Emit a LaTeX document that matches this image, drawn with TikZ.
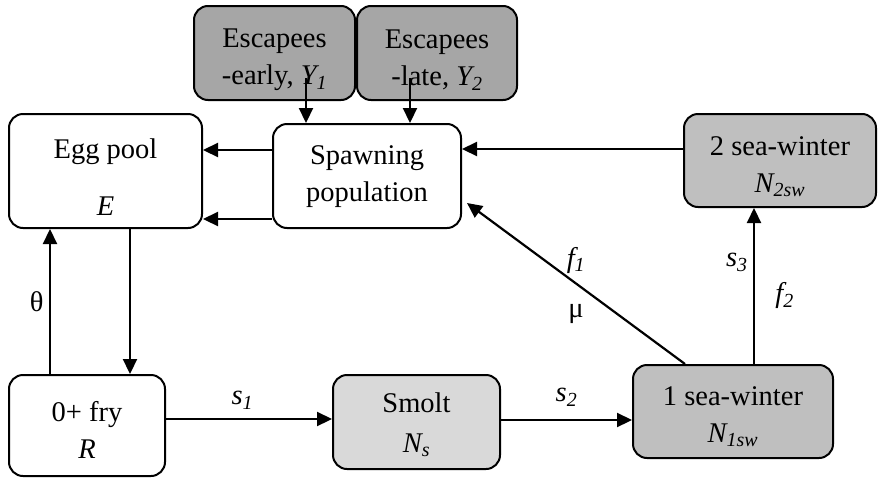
\documentclass[tikz,border=0pt]{standalone}
\usepackage{fontspec}
\setmainfont{Liberation Serif}
\usetikzlibrary{arrows.meta}

\definecolor{escfill}{HTML}{A6A6A6}
\definecolor{seafill}{HTML}{BFBFBF}
\definecolor{smoltfill}{HTML}{D9D9D9}

\begin{document}
\begin{tikzpicture}[x=1pt,y=-1pt,->,>={Triangle[length=15pt,width=14pt]},
                    line width=2.2pt,font=\fontsize{28.5}{37}\selectfont]
  \tikzstyle{stage}=[draw=black,line width=2pt,rounded corners=14pt,inner sep=0pt]
  \tikzstyle{words}=[align=center,inner sep=0pt]
  \useasboundingbox (0,0) rectangle (878,477);

  % boxes
  \node[stage,fill=escfill,minimum width=161pt,minimum height=94pt]   (early) at (274.5,53)  {};
  \node[stage,fill=escfill,minimum width=160pt,minimum height=94pt]   (late)  at (437,53)    {};
  \node[stage,minimum width=193pt,minimum height=114pt]               (egg)   at (105.5,171) {};
  \node[stage,minimum width=188pt,minimum height=104pt]               (spawn) at (367,176)   {};
  \node[stage,fill=seafill,minimum width=192pt,minimum height=93pt]   (sw2)   at (780,160.5) {};
  \node[stage,minimum width=156pt,minimum height=101pt]               (fry)   at (87,425.5)  {};
  \node[stage,fill=smoltfill,minimum width=167pt,minimum height=94pt] (smolt) at (416.5,422) {};
  \node[stage,fill=seafill,minimum width=200pt,minimum height=93pt]   (sw1)   at (733,411.5) {};

  % box texts
  \node[words] (earlyt) at ([yshift=-7pt]early)  {Escapees\\-early, \textit{Y\textsubscript{1}}};
  \node[words] (latet)  at ([yshift=-7pt]late)   {Escapees\\-late, \textit{Y\textsubscript{2}}};
  \node[words] (eggt)   at ([yshift=-6pt]egg)    {Egg pool\\[20pt]\textit{E}};
  \node[words] (spawnt) at ([yshift=-1pt]spawn)  {Spawning\\population};
  \node[words] (sw2t)   at ([yshift=-6pt]sw2)    {2 sea-winter\\\textit{N\textsubscript{2sw}}};
  \node[words] (fryt)   at ([yshift=-4pt]fry)    {0+ fry\\\textit{R}};
  \node[words] (smoltt) at ([yshift=-3pt]smolt)  {Smolt\\[3pt]\textit{N\textsubscript{s}}};
  \node[words] (sw1t)   at ([yshift=-5pt]sw1)    {1 sea-winter\\\textit{N\textsubscript{1sw}}};

  % escapees join the spawners
  \draw ([xshift=31.5pt,yshift=-25pt]early.center) coordinate (y1) -- (y1 |- spawn.north);
  \draw ([xshift=-27pt,yshift=-25pt]late.center) coordinate (y2) -- (y2 |- spawn.north);

  % spawners to eggs
  \draw ([yshift=26pt]spawn.west) coordinate (sp1) -- (sp1 -| egg.east);
  \draw ([yshift=-43pt]spawn.west) coordinate (sp2) -- (sp2 -| egg.east);

  % eggs and fry
  \draw ([xshift=24.5pt]egg.south) coordinate (e1) -- (e1 |- fry.north);
  \draw ([xshift=-37pt]fry.north) coordinate (r1) -- (r1 |- egg.south)
        node[midway,left=2pt] {θ};

  % freshwater to sea
  \draw ([yshift=6.5pt]fry.east) coordinate (r2) -- (r2 -| smolt.west)
        node[pos=0.46,above=5pt] {\textit{s\textsubscript{1}}};
  \draw ([yshift=2pt]smolt.east) coordinate (n1) -- (n1 -| sw1.west)
        node[midway,above=9pt] {\textit{s\textsubscript{2}}};

  % return from sea
  \draw ([xshift=-48pt]sw1.north) -- ([xshift=5pt,yshift=-27pt]spawn.east)
        node[pos=0.5,above=6pt] {\textit{f\textsubscript{1}}}
        node[pos=0.5,below=16pt] {μ};
  \draw ([xshift=21pt]sw1.north) coordinate (n2) -- (n2 |- sw2.south)
        node[pos=0.65,left=2pt] {\textit{s\textsubscript{3}}}
        node[pos=0.44,right=17pt] {\textit{f\textsubscript{2}}};
  \draw ([yshift=11.5pt]sw2.west) coordinate (n3) -- (n3 -| spawn.east);
\end{tikzpicture}
\end{document}
